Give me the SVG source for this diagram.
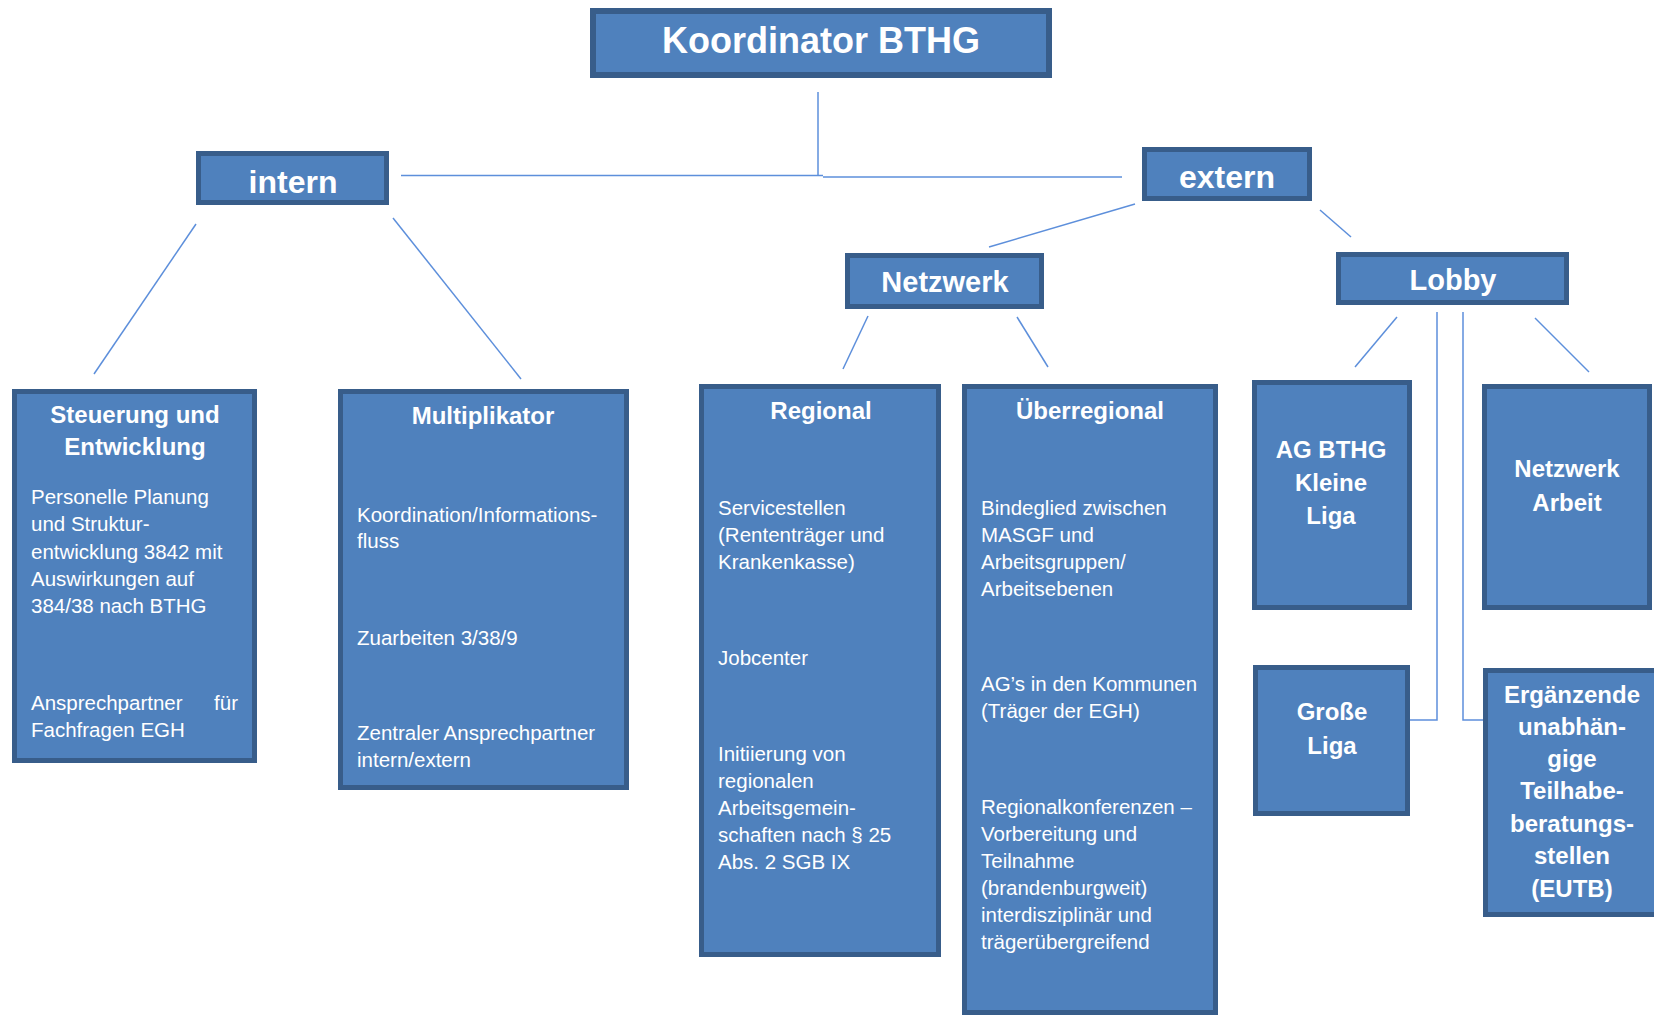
<svg xmlns="http://www.w3.org/2000/svg" width="1654" height="1016" viewBox="0 0 1654 1016">
<style>
.box{fill:#4F81BD;stroke:#385D8A;stroke-width:5}
.c{fill:none;stroke:#5D8FDB;stroke-width:1.5}
text{font-family:"Liberation Sans",Arial,sans-serif;fill:#FFFFFF}
.h{font-weight:bold;font-size:24px;text-anchor:middle}
.b{font-size:20.5px}
</style>
<rect width="1654" height="1016" fill="#FFFFFF"/>
<g id="connectors">
<path class="c" d="M818 92V175"/>
<path class="c" d="M401 175.5H823"/>
<path class="c" d="M823 177H1122"/>
<path class="c" d="M196 224L94 374"/>
<path class="c" d="M393 218L521 379"/>
<path class="c" d="M1135 204L989 247"/>
<path class="c" d="M1320 210L1351 237"/>
<path class="c" d="M868 316L843 369"/>
<path class="c" d="M1017 317L1048 367"/>
<path class="c" d="M1397 317L1355 367"/>
<path class="c" d="M1535 318L1589 372"/>
<path class="c" d="M1437 312V720H1410"/>
<path class="c" d="M1463 312V720H1483"/>
</g>
<g id="koordinator">
<rect class="box" x="593" y="11" width="456" height="64" style="stroke-width:6"/>
<text x="821" y="53" text-anchor="middle" font-weight="bold" font-size="36">Koordinator BTHG</text>
</g>
<g id="intern">
<rect class="box" x="198.5" y="153.5" width="188" height="49"/>
<text x="293" y="193" text-anchor="middle" font-weight="bold" font-size="32">intern</text>
</g>
<g id="extern">
<rect class="box" x="1144.5" y="149.5" width="165" height="49"/>
<text x="1227" y="188" text-anchor="middle" font-weight="bold" font-size="32">extern</text>
</g>
<g id="netzwerk">
<rect class="box" x="847.5" y="255.5" width="194" height="51"/>
<text x="945" y="292" text-anchor="middle" font-weight="bold" font-size="29">Netzwerk</text>
</g>
<g id="lobby">
<rect class="box" x="1338.5" y="254.5" width="228" height="48"/>
<text x="1453" y="290" text-anchor="middle" font-weight="bold" font-size="29">Lobby</text>
</g>
<g id="steuerung">
<rect class="box" x="14.5" y="391.5" width="240" height="369"/>
<text class="h" x="135" y="423">Steuerung und</text>
<text class="h" x="135" y="455">Entwicklung</text>
<text class="b" x="31" y="504">Personelle Planung</text>
<text class="b" x="31" y="531">und Struktur-</text>
<text class="b" x="31" y="559">entwicklung 3842 mit</text>
<text class="b" x="31" y="586">Auswirkungen auf</text>
<text class="b" x="31" y="613">384/38 nach BTHG</text>
<text class="b" x="31" y="710">Ansprechpartner</text>
<text class="b" x="238" y="710" text-anchor="end">für</text>
<text class="b" x="31" y="737">Fachfragen EGH</text>
</g>
<g id="multiplikator">
<rect class="box" x="340.5" y="391.5" width="286" height="396"/>
<text class="h" x="483" y="424">Multiplikator</text>
<text class="b" x="357" y="522">Koordination/Informations-</text>
<text class="b" x="357" y="548">fluss</text>
<text class="b" x="357" y="645">Zuarbeiten 3/38/9</text>
<text class="b" x="357" y="740">Zentraler Ansprechpartner</text>
<text class="b" x="357" y="767">intern/extern</text>
</g>
<g id="regional">
<rect class="box" x="701.5" y="386.5" width="237" height="568"/>
<text class="h" x="821" y="419">Regional</text>
<text class="b" x="718" y="515">Servicestellen</text>
<text class="b" x="718" y="542">(Rententräger und</text>
<text class="b" x="718" y="569">Krankenkasse)</text>
<text class="b" x="718" y="665">Jobcenter</text>
<text class="b" x="718" y="761">Initiierung von</text>
<text class="b" x="718" y="788">regionalen</text>
<text class="b" x="718" y="815">Arbeitsgemein-</text>
<text class="b" x="718" y="842">schaften nach § 25</text>
<text class="b" x="718" y="869">Abs. 2 SGB IX</text>
</g>
<g id="ueberregional">
<rect class="box" x="964.5" y="386.5" width="251" height="626"/>
<text class="h" x="1090" y="419">Überregional</text>
<text class="b" x="981" y="515">Bindeglied zwischen</text>
<text class="b" x="981" y="542">MASGF und</text>
<text class="b" x="981" y="569">Arbeitsgruppen/</text>
<text class="b" x="981" y="596">Arbeitsebenen</text>
<text class="b" x="981" y="691">AG’s in den Kommunen</text>
<text class="b" x="981" y="718">(Träger der EGH)</text>
<text class="b" x="981" y="814">Regionalkonferenzen –</text>
<text class="b" x="981" y="841">Vorbereitung und</text>
<text class="b" x="981" y="868">Teilnahme</text>
<text class="b" x="981" y="895">(brandenburgweit)</text>
<text class="b" x="981" y="922">interdisziplinär und</text>
<text class="b" x="981" y="949">trägerübergreifend</text>
</g>
<g id="ag-bthg">
<rect class="box" x="1254.5" y="382.5" width="155" height="225"/>
<text class="h" x="1331" y="458">AG BTHG</text>
<text class="h" x="1331" y="491">Kleine</text>
<text class="h" x="1331" y="524">Liga</text>
</g>
<g id="netzwerk-arbeit">
<rect class="box" x="1484.5" y="386.5" width="165" height="221"/>
<text class="h" x="1567" y="477">Netzwerk</text>
<text class="h" x="1567" y="511">Arbeit</text>
</g>
<g id="grosse-liga">
<rect class="box" x="1255.5" y="667.5" width="152" height="146"/>
<text class="h" x="1332" y="720">Große</text>
<text class="h" x="1332" y="754">Liga</text>
</g>
<g id="eutb">
<rect class="box" x="1485.5" y="670.5" width="180" height="244"/>
<text class="h" x="1572" y="703">Ergänzende</text>
<text class="h" x="1572" y="735">unabhän-</text>
<text class="h" x="1572" y="767">gige</text>
<text class="h" x="1572" y="799">Teilhabe-</text>
<text class="h" x="1572" y="832">beratungs-</text>
<text class="h" x="1572" y="864">stellen</text>
<text class="h" x="1572" y="897">(EUTB)</text>
</g>
</svg>
